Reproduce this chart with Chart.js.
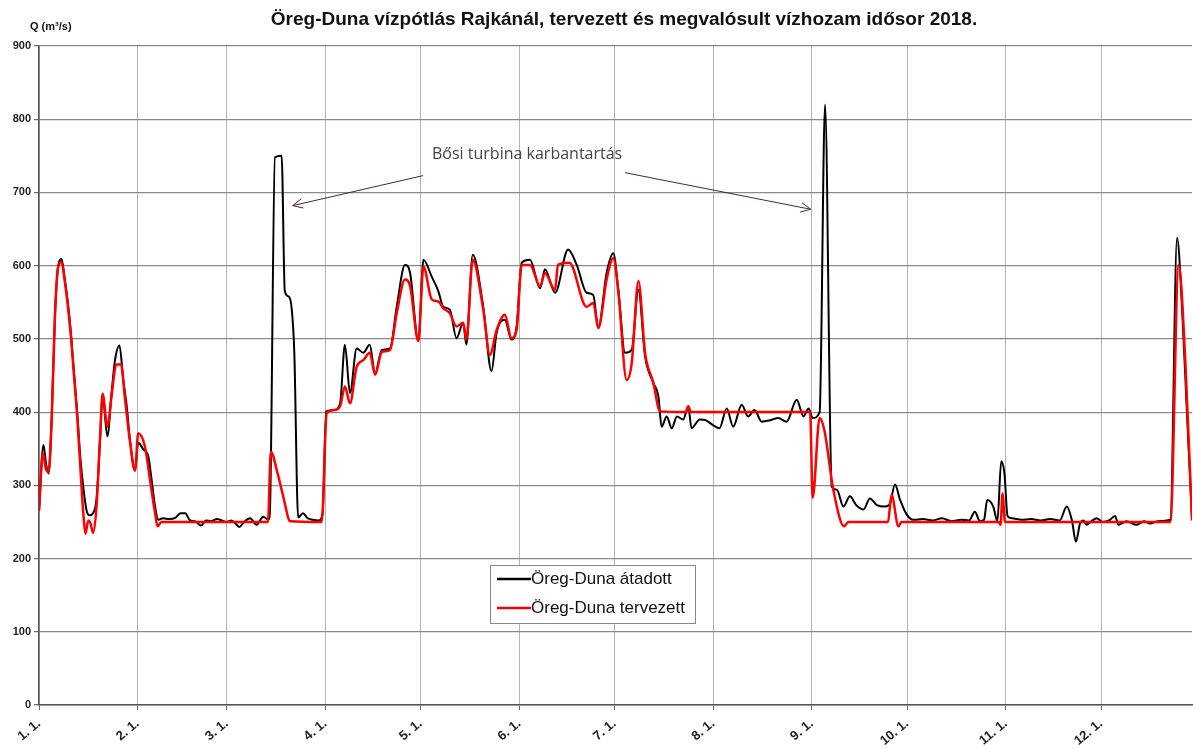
<!DOCTYPE html>
<html><head><meta charset="utf-8">
<script src="https://cdn.jsdelivr.net/npm/chart.js@4.4.1/dist/chart.umd.min.js"></script>
<style>html,body{margin:0;padding:0;background:#fff;}#wrap{width:1193px;height:749px;position:relative;}</style>
</head><body><div id="wrap"><canvas id="c" width="1193" height="749"></canvas></div>
<script>
const titleText = 'Öreg-Duna vízpótlás Rajkánál, tervezett és megvalósult vízhozam idősor 2018.';
const unitText = 'Q (m³/s)';
const noteText = 'Bősi turbina karbantartás';
const seriesNames = ['Öreg-Duna átadott', 'Öreg-Duna tervezett'];

const monthStarts = [0,31,59,90,120,151,181,212,243,273,304,334];
const monthLabels = ['1. 1.','2. 1.','3. 1.','4. 1.','5. 1.','6. 1.','7. 1.','8. 1.','9. 1.','10. 1.','11. 1.','12. 1.'];
const yTicks = [0,100,200,300,400,500,600,700,800,900];

// day of year (0 = Jan 1) and delivered discharge (black)
const deliveredDays = [0,1.4,2.2,3,4,5,6,7.1,8,9,10,11,12,13,14,15,16,17,18.1,19.2,20,21.5,22.9,23.9,25.3,26.5,27.6,28.6,30.2,31.2,32.8,34.4,35.4,36.5,37.5,
39,41,43,44.5,46,47.5,49,51,52.5,54,56,57.5,59,60.5,62,63,64.5,66.4,68.4,70.5,72.2,
72.6,74.2,76.3,77.3,78.5,79.5,80.3,81.5,83,84.5,86,88,89.2,90.3,
93,94.7,96.2,97.8,99.9,102,104,105.7,107.8,110.4,112.5,115.1,116.7,119.3,120.9,123.5,125.6,127.1,129.2,131.3,133.4,134.4,136.4,139.7,142.3,143.9,146.5,148.6,150.2,151.8,154.4,157.6,159.1,162.3,166.4,169.1,172.2,174.3,175.9,178.5,180.6,182.2,184.3,186.4,188.5,190.6,193.2,194.8,195.8,197.4,199,200.6,202.6,204.2,205.2,207.8,209.6,211.7,214,216.3,218.3,221,223,225,227.3,230,232.5,235.1,238.3,240.4,242,243.3,245.5,247.2,249.3,250.9,253,255,257,259.3,261.3,263.5,266,267.6,269.2,270.8,272.9,275,278,281,284,287,290,292.5,294.3,295.9,297.2,298.2,300.1,301.4,302.6,303.6,304.6,306,309,312,315,318,321,323.2,324.8,326.1,327.4,328.5,329.4,331,332.6,334.5,336.5,338.4,339.5,342,345.2,347.5,349.4,352,355.8,357.9,359.5,361,362.6];
const deliveredValues = [265,355,330,316,395,530,598,609,585,552,510,455,400,338,295,265,259,262,282,362,424,367,430,471,491,444,408,362,321,358,349,339,308,271,253,
255,254,256,262,262,252,251,245,252,251,254,252,250,252,247,243,250,255,246,257,253,
262,748,750,565,558,540,480,256,262,255,253,252,262,401,
403,412,492,426,487,481,492,453,485,487,544,601,590,497,608,585,565,544,540,501,522,492,615,544,456,508,526,499,517,604,608,569,595,563,622,601,563,560,515,590,617,567,481,485,567,476,440,421,380,394,378,394,390,408,378,390,389,383,378,405,380,410,394,403,387,389,392,387,417,394,405,392,400,820,298,294,271,285,273,267,282,273,271,275,301,280,260,253,254,252,255,251,253,252,264,251,253,280,271,251,333,317,258,255,253,254,252,254,252,271,253,223,248,252,246,251,255,250,252,258,246,251,246,251,248,251,253,638,540,400,255];

// day of year and planned discharge (red)
const plannedDays = [0,1.2,2.2,3,4,5,6,7.1,8,9,10,11,12,13,14,14.6,15.5,16.2,17,18.1,19.2,20,21.5,22.9,24.3,25.8,27,28.6,30.2,31.2,33.3,34.9,36.5,37.3,38.5,72,72.9,75,76.8,79,88.9,90.5,
93,94.7,96.2,97.8,99.9,102,104,105.7,107.8,110.4,112.5,115.1,116.7,119.3,120.9,123.5,125.6,127.1,129.2,131.3,133.4,134.4,136.4,139.7,141.8,143.9,146.5,148.6,150.2,151.8,154.4,157.6,159.1,162.3,163.2,166.8,172.2,174.3,175.9,178.5,180.6,182.2,184.8,186.4,188.5,190.6,193.2,195.3,203.5,204.2,205,242.5,243.3,245.5,247,249.8,253.2,254.5,267,268.1,270.3,271.2,301.8,302.4,303,303.8,355.8,358.4,360.5,362.6];
const plannedValues = [265,344,322,318,390,530,598,605,582,548,505,450,395,325,258,234,252,248,235,272,365,425,380,425,465,465,420,360,320,371,353,308,262,244,250,250,346,317,285,251,250,399,
403,408,435,412,462,471,481,451,482,485,535,581,572,497,599,554,551,542,535,517,522,499,608,540,478,512,533,501,512,601,601,572,590,567,601,604,544,549,515,581,610,563,444,467,579,481,440,401,400,408,400,400,283,392,375,294,244,250,250,287,244,250,250,246,289,250,250,601,470,252];

// annotation anchors in data units (day, discharge)
const note = {day:123.6, value:752};
const arrows = [
  {from:{day:120.8, value:723}, to:{day:79.8, value:682}},
  {from:{day:184.3, value:727}, to:{day:242.7, value:677}}
];

const toPoints = (d, v) => d.map((x, i) => ({x: x, y: v[i]}));

const overlay = {
  id: 'overlay',
  afterDatasetsDraw(chart) {
    const {ctx, scales} = chart;
    const xs = scales.x, ys = scales.y;
    ctx.save();
    // title
    ctx.fillStyle = '#111';
    ctx.textBaseline = 'middle';
    ctx.textAlign = 'center';
    ctx.font = 'bold 19px "Liberation Sans", Arial, sans-serif';
    ctx.fillText(titleText, 624, 20);
    // unit label
    ctx.textAlign = 'left';
    ctx.font = 'bold 11px "Liberation Sans", Arial, sans-serif';
    ctx.fillText(unitText, 30, 27);
    // annotation text
    ctx.fillStyle = '#444';
    ctx.font = '16px "Open Sans", sans-serif';
    ctx.fillText(noteText, xs.getPixelForValue(note.day), ys.getPixelForValue(note.value));
    // arrows
    ctx.strokeStyle = '#4a2535';
    ctx.lineWidth = 1;
    arrows.forEach(a => {
      const x1 = xs.getPixelForValue(a.from.day), y1 = ys.getPixelForValue(a.from.value);
      const x2 = xs.getPixelForValue(a.to.day), y2 = ys.getPixelForValue(a.to.value);
      ctx.beginPath(); ctx.moveTo(x1, y1); ctx.lineTo(x2, y2); ctx.stroke();
      const ang = Math.atan2(y2 - y1, x2 - x1), L = 11, w = 0.45;
      ctx.beginPath();
      ctx.moveTo(x2 - L * Math.cos(ang - w), y2 - L * Math.sin(ang - w));
      ctx.lineTo(x2, y2);
      ctx.lineTo(x2 - L * Math.cos(ang + w), y2 - L * Math.sin(ang + w));
      ctx.stroke();
    });
    // legend box
    const lx = 490, ly = 565, lw = 205, lh = 58;
    ctx.fillStyle = '#fff';
    ctx.fillRect(lx, ly, lw, lh);
    ctx.strokeStyle = '#888';
    ctx.strokeRect(lx + 0.5, ly + 0.5, lw, lh);
    const items = [
      {name: seriesNames[0], color: chart.data.datasets[1].borderColor, w: 2.5, y: ly + 14},
      {name: seriesNames[1], color: chart.data.datasets[0].borderColor, w: 2.5, y: ly + 43}
    ];
    ctx.font = '17px "Liberation Sans", Arial, sans-serif';
    items.forEach(it => {
      ctx.strokeStyle = it.color; ctx.lineWidth = it.w;
      ctx.beginPath(); ctx.moveTo(lx + 7, it.y); ctx.lineTo(lx + 41, it.y); ctx.stroke();
      ctx.fillStyle = '#111';
      ctx.fillText(it.name, lx + 41, it.y);
    });
    ctx.restore();
  }
};

new Chart(document.getElementById('c'), {
  type: 'line',
  data: {
    datasets: [
      {label: seriesNames[1], data: toPoints(plannedDays, plannedValues), borderColor: '#ff0000', borderWidth: 2.5, pointRadius: 0, cubicInterpolationMode: 'monotone', fill: false},
      {label: seriesNames[0], data: toPoints(deliveredDays, deliveredValues), borderColor: '#000000', borderWidth: 2, pointRadius: 0, cubicInterpolationMode: 'monotone', fill: false}
    ]
  },
  options: {
    responsive: false, animation: false, devicePixelRatio: 1,
    layout: {padding: {top: 46, right: 1, left: 0, bottom: 0}},
    plugins: {legend: {display: false}, title: {display: false}, tooltip: {enabled: false}},
    scales: {
      x: {
        type: 'linear', min: 0, max: 362.6,
        afterBuildTicks: s => { s.ticks = monthStarts.map(v => ({value: v})); },
        afterFit: s => { s.height = 44; },
        ticks: {
          autoSkip: false, minRotation: 40, maxRotation: 40, padding: 6,
          color: '#222', font: {family: '"Liberation Sans", Arial, sans-serif', size: 13, weight: 'bold'},
          callback: (v) => monthLabels[monthStarts.indexOf(v)]
        },
        grid: {color: '#b4b4b4', lineWidth: 1, tickLength: 5, tickColor: '#666'},
        border: {color: '#555', width: 1.5}
      },
      y: {
        min: 0, max: 900,
        afterBuildTicks: s => { s.ticks = yTicks.map(v => ({value: v})); },
        afterFit: s => { s.width = 39; },
        ticks: {
          padding: 3, color: '#222',
          font: {family: '"Liberation Sans", Arial, sans-serif', size: 11, weight: 'bold'}
        },
        grid: {color: '#8a8a8a', lineWidth: 1.2, tickLength: 5, tickColor: '#666'},
        border: {color: '#555', width: 1.5}
      }
    }
  },
  plugins: [overlay]
});
</script>
</body></html>
